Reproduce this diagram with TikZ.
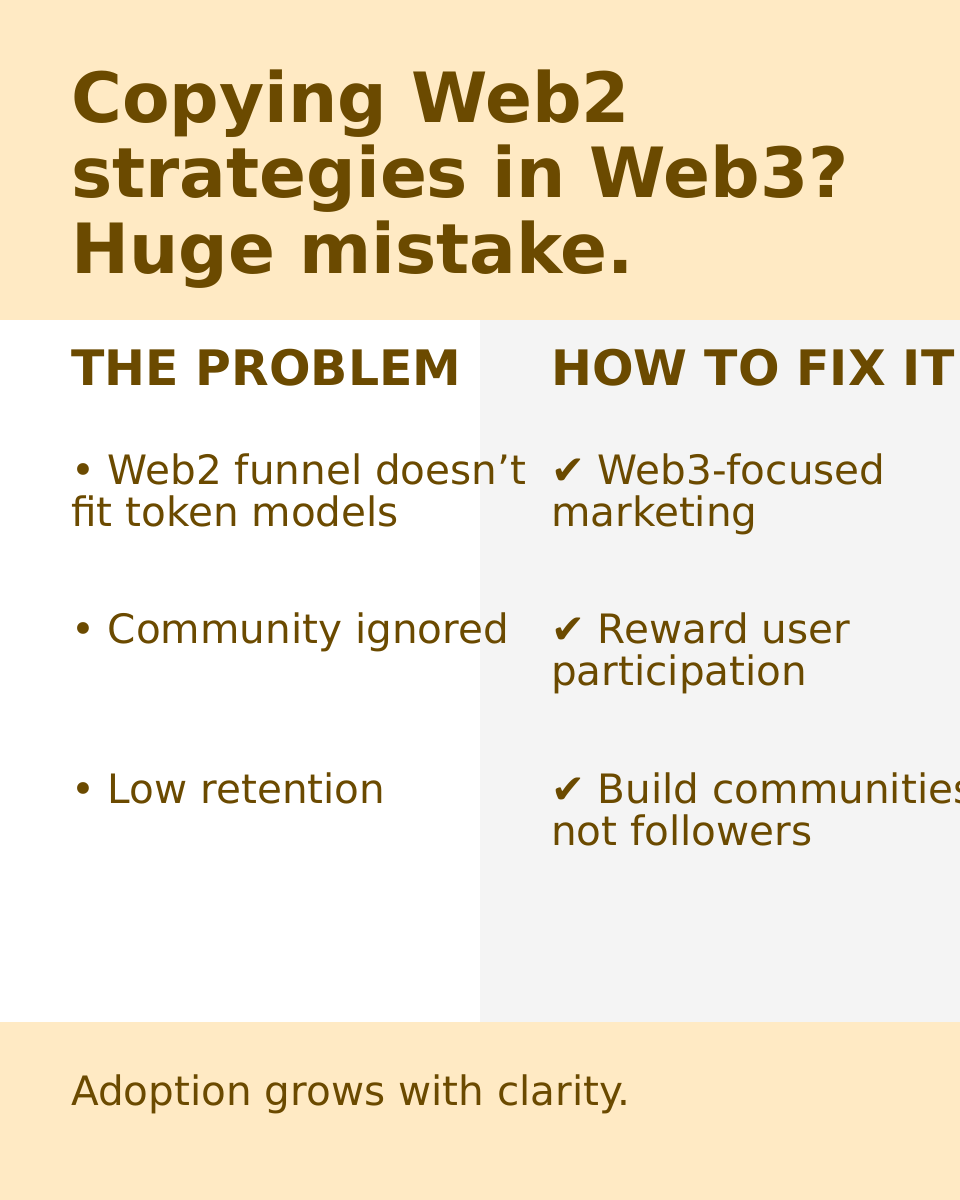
\documentclass[tikz,border=0pt]{standalone}
\usepackage{fontspec}
\setmainfont{DejaVu Sans}
\definecolor{band}{HTML}{FFEAC4}
\definecolor{grayc}{HTML}{F4F4F4}
\definecolor{ink}{HTML}{6B4A00}
\tikzset{
  txt/.style={anchor=base west,inner sep=0pt,text=ink,align=left},
  title/.style={txt,font=\fontsize{69.3}{75.5}\selectfont\bfseries},
  head/.style={txt,font=\fontsize{48.9}{50}\selectfont\bfseries},
  body/.style={txt,font=\fontsize{40.5}{42}\selectfont},
}
\begin{document}
\begin{tikzpicture}[x=1pt,y=-1pt]
\useasboundingbox (0,0) rectangle (960,1200);
\clip (0,0) rectangle (960,1200);
\fill[band] (0,0) rectangle (960,320);
\fill[white] (0,320) rectangle (480,1022);
\fill[grayc] (480,320) rectangle (960,1022);
\fill[band] (0,1022) rectangle (960,1200);
\node[title] (t) at (71,273) {Copying Web2\\strategies in Web3?\\Huge mistake.};
\node[head] (hl) at (71,385) {THE PROBLEM};
\node[head] (hr) at (551,385) {HOW TO FIX IT};
\node[body] (l1) at (71,526) {• Web2 funnel doesn’t\\fit token models};
\node[body] (l2) at (71,643) {• Community ignored};
\node[body] (l3) at (71,803) {• Low retention};
\node[body] (r1) at (551,526) {✔ Web3-focused\\marketing};
\node[body] (r2) at (551,685) {✔ Reward user\\participation};
\node[body] (r3) at (551,845) {✔ Build communities,\\not followers};
\node[body] (f) at (71,1105) {Adoption grows with clarity.};
\end{tikzpicture}
\end{document}
